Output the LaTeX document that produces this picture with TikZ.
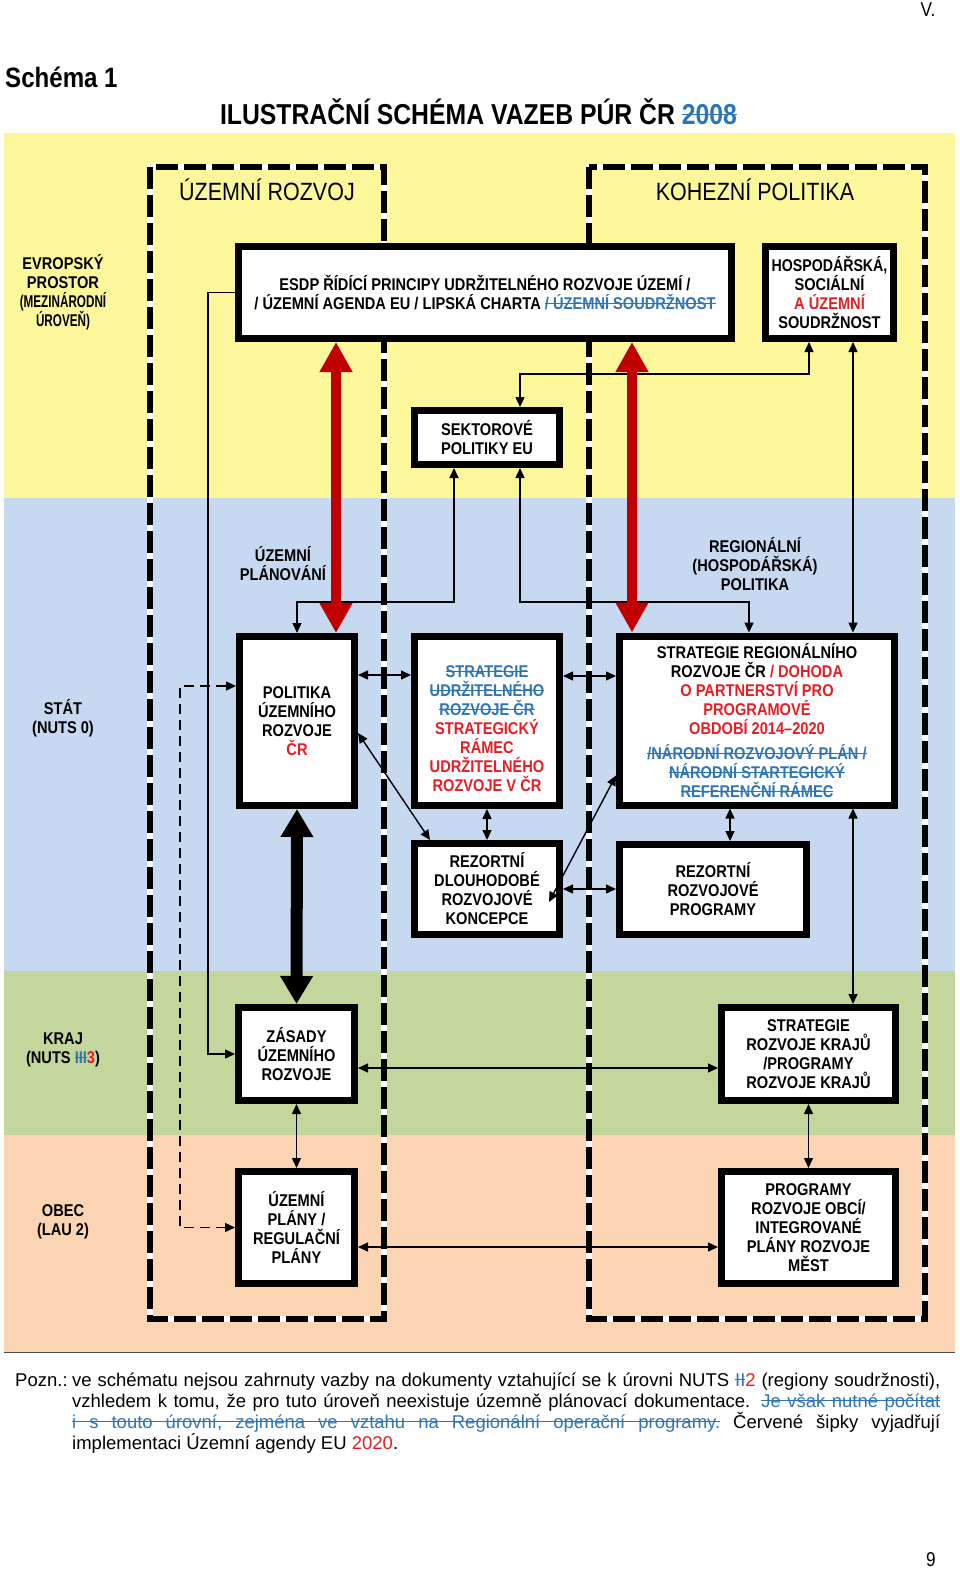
\documentclass[tikz,border=0pt]{standalone}
\usepackage{fontspec}
\setmainfont{Liberation Sans}[FakeStretch=0.86]
\newfontfamily\notefont{Liberation Sans}
\usepackage{graphicx}
\usetikzlibrary{arrows.meta,calc}
\definecolor{bandY}{RGB}{252,247,155}
\definecolor{bandB}{RGB}{198,217,241}
\definecolor{bandG}{RGB}{195,214,155}
\definecolor{bandP}{RGB}{251,212,180}
\definecolor{txtred}{RGB}{230,30,35}
\definecolor{arrred}{RGB}{192,0,0}
\definecolor{strblue}{RGB}{46,117,182}
\newcommand{\strk}[1]{\begingroup\color{strblue}\setbox0\hbox{#1}\rlap{\rule[0.33em]{\wd0}{1.2pt}}\box0\endgroup}
\newcommand{\sspace}{{\color{strblue}\leaders\hrule height \dimexpr0.33em+1.2pt\relax depth -0.33em\hskip\fontdimen2\font plus\fontdimen3\font minus\fontdimen4\font}}
\newcommand{\rd}[1]{{\color{txtred}#1}}
\begin{document}
\begin{tikzpicture}[x=1pt,y=-1pt,
 box/.style={draw,line width=7pt,fill=white,align=center,font=\bfseries\fontsize{17}{19}\selectfont,inner sep=0pt},
 btext/.style={align=center,font=\bfseries\fontsize{17}{19}\selectfont,inner sep=0pt},
 lvl/.style={align=center,font=\bfseries\fontsize{17}{19}\selectfont},
 tipA/.tip={Triangle[length=10pt,width=9pt]},
 conn/.style={line width=1.4pt,tipA-tipA},
 conn1/.style={line width=1.4pt,-tipA},
 redarr/.style={arrred,line width=10pt,{Triangle[length=30pt,width=31pt]}-{Triangle[length=30pt,width=31pt]}},
 blkarr/.style={black,line width=12pt,{Triangle[length=28pt,width=31pt]}-{Triangle[length=28pt,width=31pt]}},
 frw/.style={white,line width=6pt},
 frb/.style={black,line width=6pt,dash pattern=on 22pt off 6pt},
 note/.style={anchor=base west,inner sep=0pt,font=\notefont\fontsize{18.5}{21}\selectfont},
]
\useasboundingbox (0,0) rectangle (960,1573);
% bands
\fill[bandY] (4,133) rectangle (955,498);
\fill[bandB] (4,498) rectangle (955,971);
\fill[bandG] (4,971) rectangle (955,1135);
\fill[bandP] (4,1135) rectangle (955,1352);
\draw[line width=1pt,black!70] (4,1352) -- (955,1352);
% frames
\draw[frw] (150,167) rectangle (384,1319);
\draw[frb] (150,167) rectangle (384,1319);
\draw[frw] (589,167) rectangle (925,1319);
\draw[frb] (589,167) rectangle (925,1319);
% headings
\node[font=\fontsize{20}{24}\selectfont] (pgV) at (928,10) {V.};
\node[anchor=west,font=\bfseries\fontsize{28}{32}\selectfont,inner sep=0pt] (schema) at (5,77) {Schéma 1};
\node[font=\bfseries\fontsize{28.8}{32}\selectfont] (title) at (478.5,112) {ILUSTRAČNÍ SCHÉMA VAZEB PÚR ČR \strk{2008}};
\node[font=\fontsize{25}{30}\selectfont] (hUR) at (267,190) {ÚZEMNÍ ROZVOJ};
\node[font=\fontsize{25}{30}\selectfont] (hKP) at (755,190) {KOHEZNÍ POLITIKA};
% level labels
\node[lvl] (lEU) at (63,292) {EVROPSKÝ\\PROSTOR\\\scalebox{0.8}[1]{(MEZINÁRODNÍ}\\\scalebox{0.8}[1]{ÚROVEŇ)}};
\node[lvl] (lST) at (63,718) {STÁT\\(NUTS 0)};
\node[lvl] (lKR) at (63,1050) {KRAJ\\(NUTS \strk{III}\rd{3})};
\node[lvl] (lOB) at (63,1222) {OBEC\\(LAU 2)};
\node[lvl] (lUP) at (283,564) {ÚZEMNÍ\\PLÁNOVÁNÍ};
\node[lvl] (lRP) at (755,564) {REGIONÁLNÍ\\(HOSPODÁŘSKÁ)\\POLITIKA};
% boxes
\node[box,minimum width=493pt,minimum height=92pt] (ESDP) at (485,292.5) {ESDP ŘÍDÍCÍ PRINCIPY UDRŽITELNÉHO ROZVOJE ÚZEMÍ /\\/ ÚZEMNÍ AGENDA EU / LIPSKÁ CHARTA \strk{/ ÚZEMNÍ SOUDRŽNOST}};
\node[box,minimum width=128pt,minimum height=92pt] (HOSP) at (829.5,292.5) {\scalebox{0.97}[1]{HOSPODÁŘSKÁ,}\\SOCIÁLNÍ\\\rd{A ÚZEMNÍ}\\SOUDRŽNOST};
\node[box,minimum width=145pt,minimum height=54pt] (SEKT) at (487,437.5) {SEKTOROVÉ\\POLITIKY EU};
\node[box,minimum width=115pt,minimum height=169pt] (POL) at (297,721) {POLITIKA\\ÚZEMNÍHO\\ROZVOJE\\\rd{ČR}};
\node[box,minimum width=145pt,minimum height=169pt] (STR) at (487,721) {};
\node[btext] (STRt) at (487,729) {\strk{STRATEGIE}\\\strk{UDRŽITELNÉHO}\\\strk{ROZVOJE ČR}\\\rd{STRATEGICKÝ}\\\rd{RÁMEC}\\\rd{UDRŽITELNÉHO}\\\rd{ROZVOJE V ČR}};
\node[box,minimum width=275pt,minimum height=169pt] (SR) at (757,720.5) {STRATEGIE REGIONÁLNÍHO\\ROZVOJE ČR \rd{/ DOHODA}\\\rd{O PARTNERSTVÍ PRO}\\\rd{PROGRAMOVÉ}\\\rd{OBDOBÍ 2014--2020}\\[6pt]\strk{/NÁRODNÍ ROZVOJOVÝ PLÁN /}\\\strk{NÁRODNÍ STARTEGICKÝ}\\\strk{REFERENČNÍ RÁMEC}};
\node[box,minimum width=145pt,minimum height=91pt] (RDK) at (487,889) {REZORTNÍ\\DLOUHODOBÉ\\ROZVOJOVÉ\\KONCEPCE};
\node[box,minimum width=187pt,minimum height=90pt] (RRP) at (713,889.5) {REZORTNÍ\\ROZVOJOVÉ\\PROGRAMY};
\node[box,minimum width=116pt,minimum height=93pt] (ZUR) at (296.5,1054) {ZÁSADY\\ÚZEMNÍHO\\ROZVOJE};
\node[box,minimum width=116pt,minimum height=112pt] (UP) at (296.5,1227.5) {ÚZEMNÍ\\PLÁNY /\\REGULAČNÍ\\PLÁNY};
\node[box,minimum width=174pt,minimum height=93pt] (SRK) at (808.5,1054) {STRATEGIE\\ROZVOJE KRAJŮ\\/PROGRAMY\\ROZVOJE KRAJŮ};
\node[box,minimum width=174pt,minimum height=112pt] (PRO) at (808.5,1227.5) {PROGRAMY\\ROZVOJE OBCÍ/\\INTEGROVANÉ\\PLÁNY ROZVOJE\\MĚST};
% helper coordinates
\coordinate (x180) at (180,0);
\coordinate (x208) at (208,0);
\coordinate (x336) at (336,0);
\coordinate (x430) at (430,0);
\coordinate (x520) at (520,0);
\coordinate (x632) at (632,0);
\coordinate (x730) at (730,0);
\coordinate (x749) at (749,0);
\coordinate (x809) at (809,0);
\coordinate (x853) at (853,0);
\coordinate (p374) at (809,374);
\coordinate (q454) at (454,602);
\coordinate (q520) at (520,602);
\coordinate (y675) at (0,675);
\coordinate (y676) at (0,676);
\coordinate (y1068) at (0,1068);
\coordinate (y1247) at (0,1247);
\coordinate (rdkin) at (549,902);
% connectors
\draw[conn1] (ESDP.west) -- (ESDP.west -| x208) |- (ZUR.west);
\draw[conn,dash pattern=on 10pt off 6pt] ([yshift=35pt]POL.west) -- ([yshift=35pt]POL.west -| x180) |- (UP.west);
\draw[conn] (HOSP.south -| x809) -- (p374) -| (SEKT.north -| x520);
\draw[conn] (SEKT.south -| q454) -- (q454) -| (POL.north);
\draw[conn] (SEKT.south -| q520) -- (q520) -| (SR.north -| x749);
\draw[conn] (HOSP.south -| x853) -- (SR.north -| x853);
\draw[conn] (SR.south -| x853) -- (SRK.north -| x853);
\draw[redarr] (ESDP.south -| x336) -- (POL.north -| x336);
\draw[redarr] (ESDP.south -| x632) -- (SR.north -| x632);
\draw[blkarr] (POL.south) -- (ZUR.north);
\draw[conn] (POL.east |- y675) -- (STR.west |- y675);
\draw[conn] (STR.east |- y676) -- (SR.west |- y676);
\draw[conn] ([yshift=-12pt]POL.east) -- (RDK.north -| x430);
\draw[conn] (STR.south) -- (RDK.north);
\draw[conn] ([yshift=-55pt]SR.west) -- (rdkin);
\draw[conn] (RDK.east) -- (RDK.east -| RRP.west);
\draw[conn] (SR.south -| x730) -- (RRP.north -| x730);
\draw[conn] (ZUR.east |- y1068) -- (SRK.west |- y1068);
\draw[conn] (UP.east |- y1247) -- (PRO.west |- y1247);
\draw[conn] (ZUR.south) -- (UP.north);
\draw[conn] (SRK.south) -- (PRO.north);
% note
\node[note] (pozn) at (15,1386) {Pozn.:};
\node[note] (n1) at (72,1386) {\makebox[868pt][s]{ve schématu nejsou zahrnuty vazby na dokumenty vztahující se k úrovni NUTS \strk{II}\rd{2} (regiony soudržnosti),}};
\node[note] (n2) at (72,1407) {\makebox[868pt][s]{vzhledem k tomu, že pro tuto úroveň neexistuje územně plánovací dokumentace. \strk{Je}\sspace\strk{však}\sspace\strk{nutné}\sspace\strk{počítat}}};
\node[note] (n3) at (72,1428) {\makebox[868pt][s]{\strk{i}\sspace\strk{s}\sspace\strk{touto}\sspace\strk{úrovní,}\sspace\strk{zejména}\sspace\strk{ve}\sspace\strk{vztahu}\sspace\strk{na}\sspace\strk{Regionální}\sspace\strk{operační}\sspace\strk{programy.} Červené šipky vyjadřují}};
\node[note] (n4) at (72,1449) {implementaci Územní agendy EU \rd{2020}.};
\node[font=\fontsize{20}{24}\selectfont] (pg9) at (931,1560) {9};
\end{tikzpicture}
\end{document}
